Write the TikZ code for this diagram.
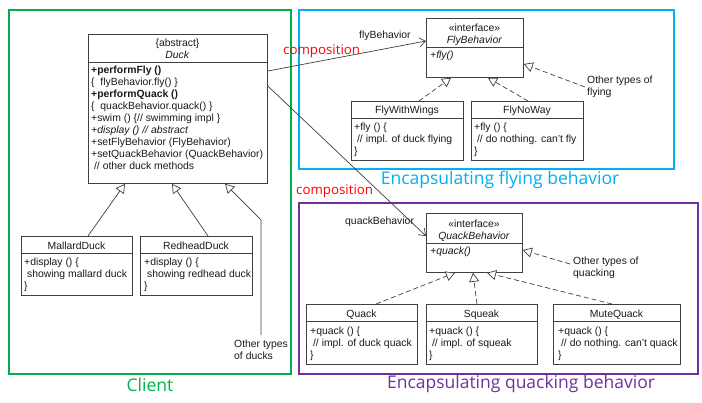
\documentclass[tikz,border=0pt]{standalone}
\usepackage{fontspec}
\setmainfont{Liberation Sans}
\newfontfamily\kofont{Open Sans}
\usetikzlibrary{arrows.meta,calc}
\definecolor{cgreen}{HTML}{00B050}
\definecolor{cblue}{HTML}{00B0F0}
\definecolor{cpurple}{HTML}{7030A0}
\definecolor{boxline}{HTML}{404040}
\definecolor{txt}{HTML}{1A1A1A}
\begin{document}
\begin{tikzpicture}[x=1pt,y=-1pt,
  classbox/.style={draw=boxline,line width=0.8pt,anchor=north west,inner sep=0pt,fill=white},
  sepline/.style={draw=boxline,line width=0.8pt},
  body/.style={anchor=north west,inner sep=0pt,align=left,font=\fontsize{10.4}{12}\selectfont,text=txt},
  head/.style={anchor=base,inner sep=0pt,font=\fontsize{10.4}{12}\selectfont,text=txt},
  groupbox/.style={line width=1.8pt,anchor=north west,inner sep=0pt},
  grouplabel/.style={font=\kofont\fontsize{17.5}{20}\selectfont,anchor=base,inner sep=0pt},
  complabel/.style={font=\kofont\fontsize{13.3}{15}\selectfont,text=red,anchor=base west,inner sep=0pt},
  rolelabel/.style={font=\fontsize{10.4}{12}\selectfont,text=txt,anchor=base west,inner sep=0pt},
  inherit/.style={draw=boxline,line width=0.7pt,-{Triangle[open,length=9pt,width=10pt,fill=white]}},
  realize/.style={inherit,dash pattern=on 5pt off 3pt},
  assoc/.style={draw=boxline,line width=0.7pt,-{Straight Barb[length=6pt,width=9pt]}},
]
\useasboundingbox (0,0) rectangle (702,402);
\fill[white] (0,0) rectangle (702,402);

% groups
\node[groupbox,draw=cgreen,minimum width=282pt,minimum height=364pt] (client) at (8,9) {};
\node[groupbox,draw=cblue,minimum width=375pt,minimum height=159pt] (flygroup) at (298,9) {};
\node[groupbox,draw=cpurple,minimum width=399pt,minimum height=171pt] (quackgroup) at (298,202) {};
\node[grouplabel,text=cgreen] (clientlbl) at (150,391.5) {Client};
\node[grouplabel,text=cblue] (flylbl) at (500,184.5) {Encapsulating flying behavior};
\node[grouplabel,text=cpurple] (quacklbl) at (521,388) {Encapsulating quacking behavior};

% Duck
\node[classbox,minimum width=179pt,minimum height=149pt] (duck) at (88,34) {};
\draw[sepline] ([yshift=-28pt]duck.north west) -- ([yshift=-28pt]duck.north east);
\node[head] (duckst) at (177.5,46.5) {\{abstract\}};
\node[head] (duckname) at (177.5,58) {\textit{Duck}};
\node[body] (duckbody) at (91,65) {\strut\textbf{+performFly ()}\\
\{\ \ flyBehavior.fly() \}\\
\textbf{+performQuack ()}\\
\{\ \ quackBehavior.quack() \}\\
+swim () \{// swimming impl \}\\
\textit{+display () // abstract}\\
+setFlyBehavior (FlyBehavior)\\
+setQuackBehavior (QuackBehavior)\\
\ // other duck methods};

% MallardDuck
\node[classbox,minimum width=111pt,minimum height=59pt] (mallard) at (21,236) {};
\draw[sepline] ([yshift=-17pt]mallard.north west) -- ([yshift=-17pt]mallard.north east);
\node[head] (mallardname) at (76.5,249) {MallardDuck};
\node[body] (mallardbody) at (24,256.6) {\strut+display () \{\\
\ showing mallard duck\\
\}};

% RedheadDuck
\node[classbox,minimum width=112pt,minimum height=59pt] (redhead) at (140,236) {};
\draw[sepline] ([yshift=-17pt]redhead.north west) -- ([yshift=-17pt]redhead.north east);
\node[head] (redheadname) at (196,249) {RedheadDuck};
\node[body] (redheadbody) at (144,256.6) {\strut+display () \{\\
\ showing redhead duck\\
\}};

% FlyBehavior
\node[classbox,minimum width=97pt,minimum height=59pt] (flyb) at (426,18) {};
\draw[sepline] ([yshift=-29pt]flyb.north west) -- ([yshift=-29pt]flyb.north east);
\node[head] (flybst) at (474.5,31.5) {«interface»};
\node[head] (flybname) at (474.5,43.5) {\textit{FlyBehavior}};
\node[body] (flybbody) at (430,50) {\strut\textit{+fly()}};

% FlyWithWings
\node[classbox,minimum width=112pt,minimum height=59pt] (fww) at (351,101) {};
\draw[sepline] ([yshift=-17pt]fww.north west) -- ([yshift=-17pt]fww.north east);
\node[head] (fwwname) at (407,113.5) {FlyWithWings};
\node[body] (fwwbody) at (354,121.6) {\strut+fly () \{\\
\ // impl. of duck flying\\
\}};

% FlyNoWay
\node[classbox,minimum width=112pt,minimum height=59pt] (fnw) at (471,101) {};
\draw[sepline] ([yshift=-17pt]fnw.north west) -- ([yshift=-17pt]fnw.north east);
\node[head] (fnwname) at (527,113.5) {FlyNoWay};
\node[body] (fnwbody) at (474,121.6) {\strut+fly () \{\\
\ // do nothing. can't fly\\
\}};

% QuackBehavior
\node[classbox,minimum width=96pt,minimum height=59pt] (quackb) at (426,213) {};
\draw[sepline] ([yshift=-30pt]quackb.north west) -- ([yshift=-30pt]quackb.north east);
\node[head] (quackbst) at (474,227) {«interface»};
\node[head] (quackbname) at (474,239) {\textit{QuackBehavior}};
\node[body] (quackbbody) at (430,246) {\strut\textit{+quack()}};

% Quack
\node[classbox,minimum width=111pt,minimum height=60pt] (quack) at (306,304) {};
\draw[sepline] ([yshift=-17pt]quack.north west) -- ([yshift=-17pt]quack.north east);
\node[head] (quackname) at (361.5,317.5) {Quack};
\node[body] (quackbody) at (310,325.6) {\strut+quack () \{\\
\ // impl. of duck quack\\
\}};

% Squeak
\node[classbox,minimum width=111pt,minimum height=60pt] (squeak) at (426,304) {};
\draw[sepline] ([yshift=-17pt]squeak.north west) -- ([yshift=-17pt]squeak.north east);
\node[head] (squeakname) at (481.5,317.5) {Squeak};
\node[body] (squeakbody) at (429,325.6) {\strut+quack () \{\\
\ // impl. of squeak\\
\}};

% MuteQuack
\node[classbox,minimum width=127pt,minimum height=60pt] (mute) at (553,304) {};
\draw[sepline] ([yshift=-17pt]mute.north west) -- ([yshift=-17pt]mute.north east);
\node[head] (mutename) at (616.5,317.5) {MuteQuack};
\node[body] (mutebody) at (558,325.6) {\strut+quack () \{\\
\ // do nothing. can't quack\\
\}};

% notes
\node[body] (oducks) at (234,339) {\strut Other types\\of ducks};
\node[body] (oflying) at (587,74.6) {\strut Other types of\\flying};
\node[body] (oquack) at (573,255.6) {\strut Other types of\\quacking};
\coordinate (odstart) at (261,335);
\coordinate (odbend) at (261,220);
\coordinate (ofstart) at (585,87);
\coordinate (oqstart) at (570,264);

% inheritance
\draw[inherit] ([xshift=67pt]mallard.north west) -- ([xshift=37pt]duck.south west);
\draw[inherit] ([xshift=68pt]redhead.north west) -- ([xshift=84pt]duck.south west);
\draw[inherit] (odstart) -- (odbend) -- ([xshift=137pt]duck.south west);

% realization
\draw[realize] ([xshift=68pt]fww.north west) -- ([xshift=25pt]flyb.south west);
\draw[realize] ([xshift=57pt]fnw.north west) -- ([xshift=62pt]flyb.south west);
\draw[realize] (ofstart) -- ([yshift=-46pt]flyb.north east);
\draw[realize] ([xshift=70pt]quack.north west) -- ([xshift=29pt]quackb.south west);
\draw[realize] ([xshift=51pt]squeak.north west) -- ([xshift=47pt]quackb.south west);
\draw[realize] ([xshift=59pt]mute.north west) -- ([xshift=61pt]quackb.south west);
\draw[realize] (oqstart) -- ([yshift=-37pt]quackb.north east);

% composition
\draw[assoc] ([yshift=-37pt]duck.north east) -- ([yshift=-23pt]flyb.north west);
\draw[assoc] ([yshift=-52pt]duck.north east) -- ([yshift=-23pt]quackb.north west);
\node[rolelabel] (flyrole) at (359,38) {flyBehavior};
\node[rolelabel] (quackrole) at (345,224) {quackBehavior};
\node[complabel] (comp1) at (283,54.5) {composition};
\node[complabel] (comp2) at (296,194.5) {composition};
\end{tikzpicture}
\end{document}
